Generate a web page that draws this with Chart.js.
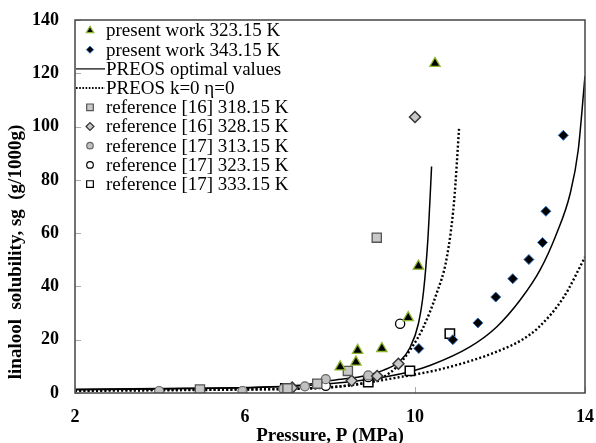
<!DOCTYPE html>
<html>
<head>
<meta charset="utf-8">
<script src="https://cdn.jsdelivr.net/npm/chart.js@4/dist/chart.umd.min.js"></script>
<style>
html,body{margin:0;padding:0;background:#fff;}
#wrap{width:596px;height:443px;position:relative;}
</style>
</head>
<body>
<div id="wrap"><canvas id="c" width="596" height="443"></canvas></div>
<script>
// ---- data ----
const xTicks = [2, 6, 10, 14];
const yTicks = [0, 20, 40, 60, 80, 100, 120, 140];

const pw323_P = [8.24, 8.61, 8.65, 9.22, 9.84, 10.08, 10.47];
const pw323_S = [9.8, 11.6, 16.0, 16.7, 28.3, 47.6, 123.7];

const pw343_P = [10.09, 10.89, 11.48, 11.90, 12.30, 12.68, 13.00, 13.08, 13.49];
const pw343_S = [16.7, 20.0, 26.3, 36.0, 42.9, 50.1, 56.5, 68.2, 96.7];

const r16_318_P = [4.94, 7.00, 7.70, 8.42, 9.10];
const r16_318_S = [1.3, 1.7, 3.5, 8.3, 58.3];

const r16_328_P = [7.11, 8.51, 9.11, 9.61, 10.00];
const r16_328_S = [2.0, 4.6, 6.4, 11.0, 103.6];

const r17_313_P = [3.98, 5.94, 6.90, 7.41, 7.90, 8.90];
const r17_313_S = [0.75, 0.75, 1.6, 2.5, 5.2, 6.6];

const r17_323_P = [7.90, 8.90, 9.65];
const r17_323_S = [2.7, 6.0, 26.0];

const r17_333_P = [6.95, 8.90, 9.88, 10.82];
const r17_333_S = [1.7, 4.1, 8.3, 22.3];

const opt323_P = [2, 4, 6, 7.29, 8.08, 8.86, 9.25, 9.65, 9.88, 10.08, 10.2, 10.3, 10.36, 10.39];
const opt323_S = [1.4, 1.7, 2.1, 2.9, 4.8, 6.6, 8.5, 12.0, 17.0, 26.0, 38.0, 57.0, 75.0, 85.0];

const opt343_P = [2, 4, 6, 7.29, 8.86, 9.88, 10.35, 11.29, 11.92, 12.47, 12.94, 13.33, 13.65, 13.84, 14];
const opt343_S = [1.2, 1.5, 2.0, 2.7, 5.0, 8.0, 10.3, 17.3, 24.8, 34.8, 46.1, 59.8, 74.8, 91.1, 119];

const k0_323_P = [2, 4, 6, 7.29, 8.47, 9.25, 9.57, 9.88, 10.2, 10.5, 10.75, 10.92, 11.04];
const k0_323_S = [1.0, 1.2, 1.4, 1.6, 2.9, 6.0, 9.8, 16.0, 24.8, 37.0, 51.0, 72.0, 100];

const k0_343_P = [2, 4, 6, 7.29, 8.47, 9.65, 10.43, 11.3, 12.0, 12.5, 12.9, 13.5, 14];
const k0_343_S = [0.8, 1.0, 1.3, 1.6, 2.9, 6.0, 8.3, 12.0, 16.0, 19.8, 24.5, 36.0, 51.0];

const legendLabels = [
  'present work 323.15 K',
  'present work 343.15 K',
  'PREOS optimal values',
  'PREOS k=0 \u03b7=0',
  'reference [16] 318.15 K',
  'reference [16] 328.15 K',
  'reference [17] 313.15 K',
  'reference [17] 323.15 K',
  'reference [17] 333.15 K'
];
const xTitle = 'Pressure, P (MPa)';
const yTitle = 'linalool  solubility, sg  (g/1000g)';

// ---- build datasets ----
const pts = (P, S) => P.map((p, i) => ({x: p, y: S[i]}));

function scatterDs(label, P, S, style, r, fill, stroke, bw) {
  return {type: 'scatter', label, data: pts(P, S), pointStyle: style, pointRadius: r,
    pointHoverRadius: r, backgroundColor: fill, borderColor: stroke, borderWidth: bw,
    showLine: false, order: 1};
}
function lineDs(label, P, S, dashed) {
  return {type: 'line', label, data: pts(P, S), borderColor: '#000',
    borderWidth: dashed ? 2.4 : 1.5, borderDash: dashed ? [2, 2.2] : [],
    pointRadius: 0, fill: false, cubicInterpolationMode: 'monotone', order: 5};
}

const datasets = [
  scatterDs(legendLabels[0], pw323_P, pw323_S, 'triangle', 6, '#000', '#8fb82e', 1.3),
  scatterDs(legendLabels[1], pw343_P, pw343_S, 'rectRot', 5, '#000', '#2f6fc0', 1),
  lineDs(legendLabels[2], opt323_P, opt323_S, false),
  lineDs(legendLabels[3], k0_323_P, k0_323_S, true),
  scatterDs(legendLabels[4], r16_318_P, r16_318_S, 'rect', 6.5, '#c8c8c8', '#555', 1.3),
  scatterDs(legendLabels[5], r16_328_P, r16_328_S, 'rectRot', 5.5, '#c8c8c8', '#333', 1.5),
  scatterDs(legendLabels[6], r17_313_P, r17_313_S, 'circle', 4.5, '#c0c0c0', '#666', 1.2),
  scatterDs(legendLabels[7], r17_323_P, r17_323_S, 'circle', 4.6, '#fff', '#000', 1.3),
  scatterDs(legendLabels[8], r17_333_P, r17_333_S, 'rect', 6.6, '#fff', '#000', 1.5),
  lineDs(legendLabels[2] + ' 343', opt343_P, opt343_S, false),
  lineDs(legendLabels[3] + ' 343', k0_343_P, k0_343_S, true)
];

const FONT = "'Liberation Serif', 'Times New Roman', serif";

const decorPlugin = {
  id: 'decor',
  afterDatasetsDraw(chart) {
    const ctx = chart.ctx, a = chart.chartArea;
    const xs = chart.scales.x, ys = chart.scales.y;
    ctx.save();
    ctx.strokeStyle = '#aaa';
    ctx.lineWidth = 1;
    xTicks.forEach(v => {
      const px = Math.round(xs.getPixelForValue(v)) + 0.5;
      ctx.beginPath(); ctx.moveTo(px, a.bottom); ctx.lineTo(px, a.bottom - 6); ctx.stroke();
    });
    yTicks.forEach(v => {
      const py = Math.round(ys.getPixelForValue(v)) + 0.5;
      ctx.beginPath(); ctx.moveTo(a.left, py); ctx.lineTo(a.left + 6, py); ctx.stroke();
    });
    ctx.strokeStyle = '#444';
    ctx.lineWidth = 1.5;
    ctx.strokeRect(a.left, a.top, a.right - a.left, a.bottom - a.top);
    ctx.restore();
  },
  afterDraw(chart) {
    const ctx = chart.ctx, a = chart.chartArea;
    ctx.save();
    const rowH = 19.2, y0 = a.top + 10.5, symX = a.left + 15, txtX = a.left + 31;
    const order = [0, 1, 2, 3, 4, 5, 6, 7, 8];
    ctx.font = '19px ' + FONT;
    ctx.fillStyle = '#000';
    ctx.textBaseline = 'middle';
    order.forEach((di, i) => {
      const ds = chart.data.datasets[di];
      const y = y0 + i * rowH;
      if (ds.type === 'line') {
        ctx.save();
        ctx.strokeStyle = '#000';
        ctx.lineWidth = ds.borderWidth === 1.5 ? 1.2 : 2;
        ctx.setLineDash(ds.borderDash.length ? [1.6, 1.6] : []);
        ctx.beginPath(); ctx.moveTo(a.left + 1, y); ctx.lineTo(txtX - 1, y); ctx.stroke();
        ctx.restore();
      } else {
        ctx.save();
        ctx.fillStyle = ds.backgroundColor;
        ctx.strokeStyle = ds.borderColor;
        ctx.lineWidth = Math.min(ds.borderWidth, 1.2);
        Chart.helpers.drawPoint(ctx, {pointStyle: ds.pointStyle, radius: ds.pointRadius * 0.72, borderWidth: ctx.lineWidth}, symX, y);
        ctx.restore();
      }
      ctx.fillStyle = '#000';
      ctx.fillText(ds.label, txtX, y + 1);
    });
    ctx.font = 'bold 19px ' + FONT;
    ctx.textAlign = 'center';
    ctx.textBaseline = 'middle';
    ctx.fillText(xTitle, (a.left + a.right) / 2, 436);
    ctx.translate(16, 252);
    ctx.rotate(-Math.PI / 2);
    ctx.fillText(yTitle, 0, 0);
    ctx.restore();
  }
};

new Chart(document.getElementById('c'), {
  data: {datasets},
  options: {
    responsive: false,
    animation: false,
    devicePixelRatio: 1,
    layout: {padding: {left: 0, right: 11, top: 20, bottom: 0}},
    plugins: {legend: {display: false}, tooltip: {enabled: false}},
    scales: {
      x: {
        type: 'linear', min: 2, max: 14,
        afterBuildTicks: s => { s.ticks = xTicks.map(v => ({value: v})); },
        ticks: {font: {family: FONT, size: 18, weight: 'bold'}, color: '#000', padding: 14, maxRotation: 0},
        grid: {display: false, drawTicks: false},
        border: {display: false},
        afterFit: s => { s.height = 50; s.paddingLeft = 0; s.paddingRight = 0; }
      },
      y: {
        type: 'linear', min: 0, max: 140,
        afterBuildTicks: s => { s.ticks = yTicks.map(v => ({value: v})); },
        ticks: {font: {family: FONT, size: 18, weight: 'bold'}, color: '#000', padding: 16},
        grid: {display: false, drawTicks: false},
        border: {display: false},
        afterFit: s => { s.width = 75; s.paddingTop = 0; s.paddingBottom = 0; }
      }
    }
  },
  plugins: [decorPlugin]
});
</script>
</body>
</html>
